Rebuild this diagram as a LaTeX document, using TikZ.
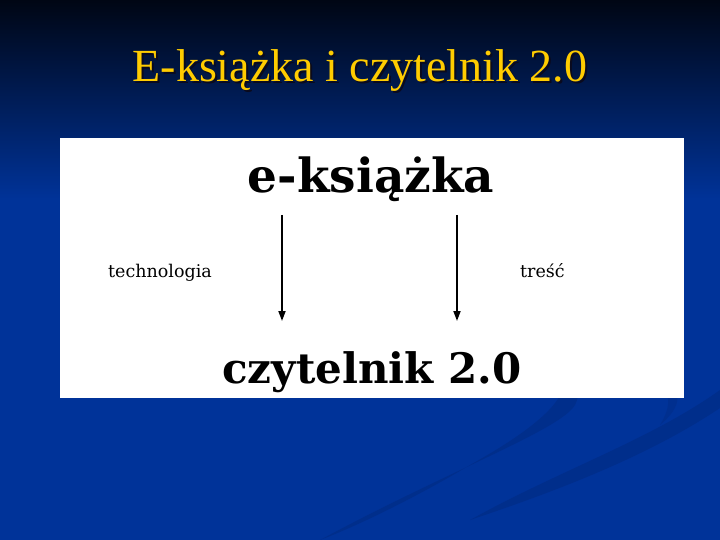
\documentclass[tikz,border=0pt]{standalone}
\usepackage{fontspec}
\setmainfont{Liberation Serif}
\newfontfamily\boxfont{DejaVu Serif}
\usetikzlibrary{arrows.meta}
\definecolor{bgtop}{RGB}{0,6,20}
\definecolor{bgblue}{RGB}{0,51,153}
\definecolor{swoosh}{RGB}{0,44,134}
\definecolor{titleyellow}{RGB}{255,204,0}
\definecolor{shadowc}{RGB}{10,10,30}
\tikzset{
  bigword/.style={font=\boxfont\bfseries\fontsize{47}{50}\selectfont, text=black, inner sep=0pt, anchor=base},
  smallword/.style={font=\boxfont\fontsize{17.5}{20}\selectfont, text=black, inner sep=0pt, anchor=base west},
  arrowline/.style={line width=1.8pt, -{Triangle[length=10pt,width=7pt]}},
  titletext/.style={font=\fontsize{46}{50}\selectfont, inner sep=0pt, anchor=base}
}
\begin{document}
\begin{tikzpicture}[x=1pt,y=-1pt]
\useasboundingbox (0,0) rectangle (720,540);
% background
\fill[bgblue] (0,0) rectangle (720,540);
\shade[top color=bgtop, bottom color=bgblue] (0,0) rectangle (720,200);
% faint swooshes
\fill[swoosh, opacity=0.7] (320,540) .. controls (450,470) and (560,430) .. (575,405)
  .. controls (585,385) and (570,370) .. (555,372)
  .. controls (575,385) and (560,415) .. (470,465)
  .. controls (420,495) and (360,525) .. (320,540) -- cycle;
\fill[swoosh, opacity=0.7] (470,520) .. controls (560,470) and (650,440) .. (720,390)
  -- (720,408) .. controls (650,455) and (560,490) .. (470,520) -- cycle;
\fill[swoosh, opacity=0.5] (640,375) .. controls (680,380) and (690,400) .. (660,425)
  .. controls (675,400) and (670,385) .. (640,375) -- cycle;
% title
\node[titletext, text=shadowc] (titleshadow) at (362,84) {E-książka i czytelnik 2.0};
\node[titletext, text=titleyellow] (title) at (360,82) {E-książka i czytelnik 2.0};
% white panel
\node[fill=white, draw=none, minimum width=624pt, minimum height=260pt, inner sep=0pt, anchor=north west] (panel) at (60,138) {};
% words
\node[bigword] (ebook) at (371,193) {e-książka};
\node[bigword, font=\boxfont\bfseries\fontsize{42}{46}\selectfont] (reader) at (372,383) {czytelnik 2.0};
\node[smallword] (tech) at (108,277) {technologia};
\node[smallword] (tresc) at (520,277) {treść};
% arrow anchors
\coordinate (lstart) at (282,215);
\coordinate (lend) at (282,321);
\coordinate (rstart) at (457,215);
\coordinate (rend) at (457,321);
\draw[arrowline] (lstart) -- (lend);
\draw[arrowline] (rstart) -- (rend);
\end{tikzpicture}
\end{document}
